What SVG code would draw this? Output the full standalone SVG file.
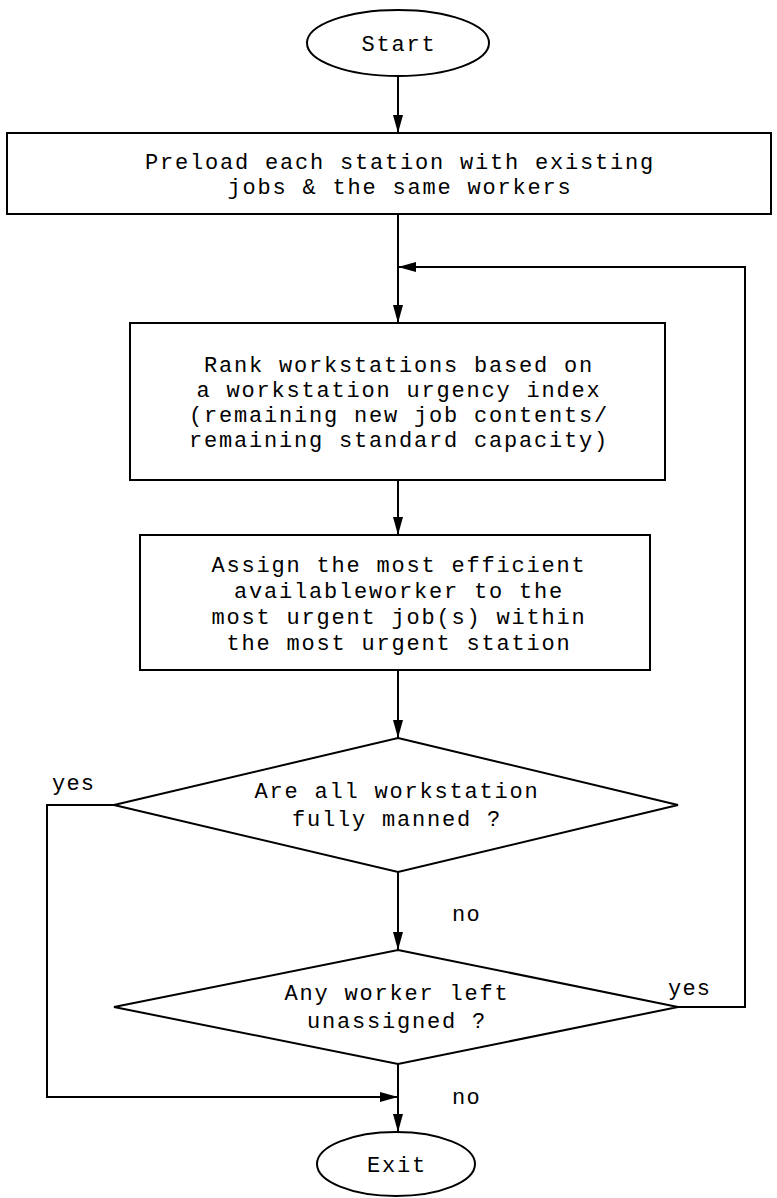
<svg xmlns="http://www.w3.org/2000/svg" width="777" height="1198" viewBox="0 0 777 1198">
<style>
.s{fill:#fff;stroke:#000;stroke-width:2}
.t{font-family:"Liberation Mono","Courier New",monospace;font-size:22px;letter-spacing:1.8px;fill:#000;text-anchor:middle}
.l{font-family:"Liberation Mono","Courier New",monospace;font-size:22px;letter-spacing:1.2px;fill:#000}
.c{fill:none;stroke:#000;stroke-width:2}
</style>
<defs>
<marker id="a" markerUnits="userSpaceOnUse" markerWidth="18" markerHeight="10" refX="18" refY="5" orient="auto">
<path d="M0,0 L18,5 L0,10 z" fill="#000"/>
</marker>
</defs>
<rect width="777" height="1198" fill="#fff"/>
<g id="connectors">
<path class="c" d="M398,76 V133" marker-end="url(#a)"/>
<path class="c" d="M398,214 V323" marker-end="url(#a)"/>
<path class="c" d="M678,1007 H745 V267 H398" marker-end="url(#a)"/>
<path class="c" d="M398,480 V535" marker-end="url(#a)"/>
<path class="c" d="M398,670 V738" marker-end="url(#a)"/>
<path class="c" d="M398,872 V950" marker-end="url(#a)"/>
<path class="c" d="M114,805 H47 V1097 H398" marker-end="url(#a)"/>
<path class="c" d="M398,1064 V1132" marker-end="url(#a)"/>
</g>
<g id="start">
<ellipse class="s" cx="398" cy="43" rx="91" ry="33"/>
<text class="t" x="399" y="51">Start</text>
</g>
<g id="preload">
<rect class="s" x="7" y="133" width="764" height="81"/>
<text class="t" x="400" y="169">Preload each station with existing</text>
<text class="t" x="400" y="194">jobs &amp; the same workers</text>
</g>
<g id="rank">
<rect class="s" x="130" y="323" width="535" height="157"/>
<text class="t" x="399" y="372">Rank workstations based on</text>
<text class="t" x="399" y="397">a workstation urgency index</text>
<text class="t" x="399" y="422">(remaining new job contents/</text>
<text class="t" x="399" y="447">remaining standard capacity)</text>
</g>
<g id="assign">
<rect class="s" x="140" y="535" width="510" height="135"/>
<text class="t" x="399" y="572">Assign the most efficient</text>
<text class="t" x="399" y="598">availableworker to the</text>
<text class="t" x="399" y="624">most urgent job(s) within</text>
<text class="t" x="399" y="650">the most urgent station</text>
</g>
<g id="decision1">
<polygon class="s" points="398,738 678,805 398,872 114,805"/>
<text class="t" x="397" y="798">Are all workstation</text>
<text class="t" x="397" y="826">fully manned ?</text>
</g>
<g id="decision2">
<polygon class="s" points="398,950 678,1007 398,1064 114,1007"/>
<text class="t" x="397" y="1000">Any worker left</text>
<text class="t" x="397" y="1028">unassigned ?</text>
</g>
<g id="exit">
<ellipse class="s" cx="396" cy="1164" rx="79" ry="32"/>
<text class="t" x="397" y="1172">Exit</text>
</g>
<g id="labels">
<text class="l" x="52" y="790">yes</text>
<text class="l" x="452" y="921">no</text>
<text class="l" x="668" y="995">yes</text>
<text class="l" x="452" y="1104">no</text>
</g>
</svg>
